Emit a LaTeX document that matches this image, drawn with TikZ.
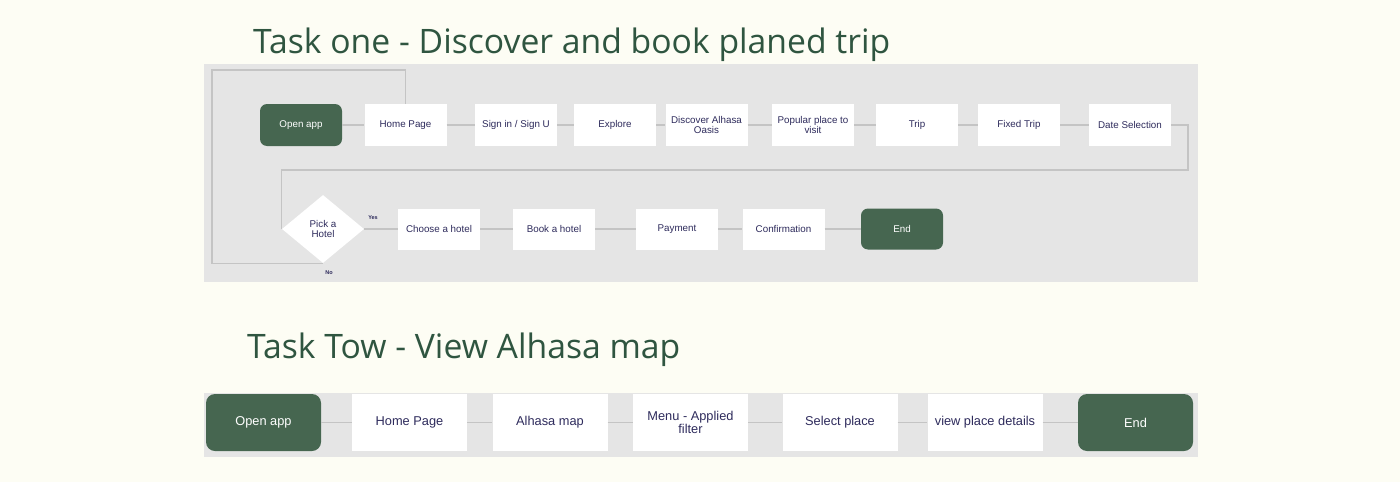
\documentclass[tikz,border=0pt]{standalone}
\usepackage{fontspec}
\usepackage{tikz}
\usetikzlibrary{shapes.geometric}
\newfontfamily\boxfont{Liberation Sans}
\newfontfamily\titlefont{Open Sans}
\definecolor{cream}{HTML}{FDFDF4}
\definecolor{panelgray}{HTML}{E5E5E5}
\definecolor{appgreen}{HTML}{466650}
\definecolor{titlegreen}{HTML}{2F5540}
\definecolor{boxtext}{HTML}{2E2B5C}
\definecolor{linegray}{HTML}{C4C4C4}

\begin{document}
\begin{tikzpicture}[x=1pt, y=-1pt,
    stepbox/.style={fill=white, text=boxtext, align=center, inner sep=1pt,
        minimum width=82pt, minimum height=42pt, font=\boxfont\fontsize{9.8}{10}\selectfont},
    greenbox/.style={stepbox, fill=appgreen, text=white, rounded corners=7pt},
    bigbox/.style={stepbox, minimum width=115pt, minimum height=57pt,
        font=\boxfont\fontsize{12.8}{12.5}\selectfont},
    biggreen/.style={bigbox, fill=appgreen, text=white, rounded corners=9pt},
    decision/.style={diamond, fill=white, text=boxtext, align=center, inner sep=0pt,
        minimum width=82pt, minimum height=68pt, font=\boxfont\fontsize{9.8}{10}\selectfont},
    flow/.style={draw=linegray, line width=1.3pt},
    tasktitle/.style={anchor=base west, text=titlegreen, inner sep=0pt,
        font=\titlefont\fontsize{33.7}{34}\selectfont},
    answer/.style={font=\boxfont\bfseries\fontsize{5.5}{6}\selectfont, text=boxtext, inner sep=0pt}]
    \useasboundingbox (0,0) rectangle (1400,482);
    \fill [cream] (0,0) rectangle (1400,482);
    \node [tasktitle] (title1) at (253,53) {Task one - Discover and book planed trip};
    \node [tasktitle] (title2) at (247,358) {Task Tow - View Alhasa map};
    \fill [panelgray] (204,64) rectangle (1198,282);
    \fill [panelgray] (204,393) rectangle (1198,457);
    % task one, first row
    \node [greenbox] (open1) at (301,125) {Open app};
    \node [stepbox] (home1) at (405.5,125) {Home Page};
    \node [stepbox] (sign1) at (516,125) {Sign in / Sign U};
    \node [stepbox] (expl1) at (615,125) {Explore};
    \node [stepbox] (disc1) at (706.5,125) {Discover Alhasa\\Oasis};
    \node [stepbox] (pop1) at (813,125) {Popular place to\\visit};
    \node [stepbox] (trip1) at (917,125) {Trip};
    \node [stepbox] (fixed1) at (1019,125) {Fixed Trip};
    \node [stepbox] (date1) at (1130,125) {Date Selection};
    % task one, second row
    \node [decision] (pick) at (323,229) {Pick a\\Hotel};
    \node [stepbox, minimum height=41pt] (choose) at (439,229) {Choose a hotel};
    \node [stepbox, minimum height=41pt] (book) at (554,229) {Book a hotel};
    \node [stepbox, minimum height=41pt] (pay) at (677,229) {Payment};
    \node [stepbox, minimum height=41pt] (conf) at (783.5,229) {Confirmation};
    \node [greenbox, minimum height=41pt] (end1) at (902,229) {End};
    \node [answer] (yes) at (373,218) {Yes};
    \node [answer] (no) at (329,273) {No};
    \draw [flow] (open1) -- (home1) -- (sign1) -- (expl1) -- (disc1) -- (pop1)
        -- (trip1) -- (fixed1) -- (date1);
    \draw [flow] (date1.east) -| (1188,170) -| (pick.west);
    \draw [flow] (home1.north) |- (212,70) |- (pick.south);
    \draw [flow] (pick.east) -- (choose) -- (book) -- (pay) -- (conf) -- (end1);
    % task two
    \node [biggreen] (open2) at (263.5,422.5) {Open app};
    \node [bigbox] (home2) at (409.5,422.5) {Home Page};
    \node [bigbox] (map2) at (550,422.5) {Alhasa map};
    \node [bigbox] (menu2) at (690.5,422.5) {Menu - Applied\\filter};
    \node [bigbox] (sel2) at (840,422.5) {Select place};
    \node [bigbox] (view2) at (985,422.5) {view place details};
    \node [biggreen] (end2) at (1135.5,422.5) {End};
    \draw [flow] (open2) -- (home2) -- (map2) -- (menu2) -- (sel2) -- (view2) -- (end2);
\end{tikzpicture}
\end{document}
